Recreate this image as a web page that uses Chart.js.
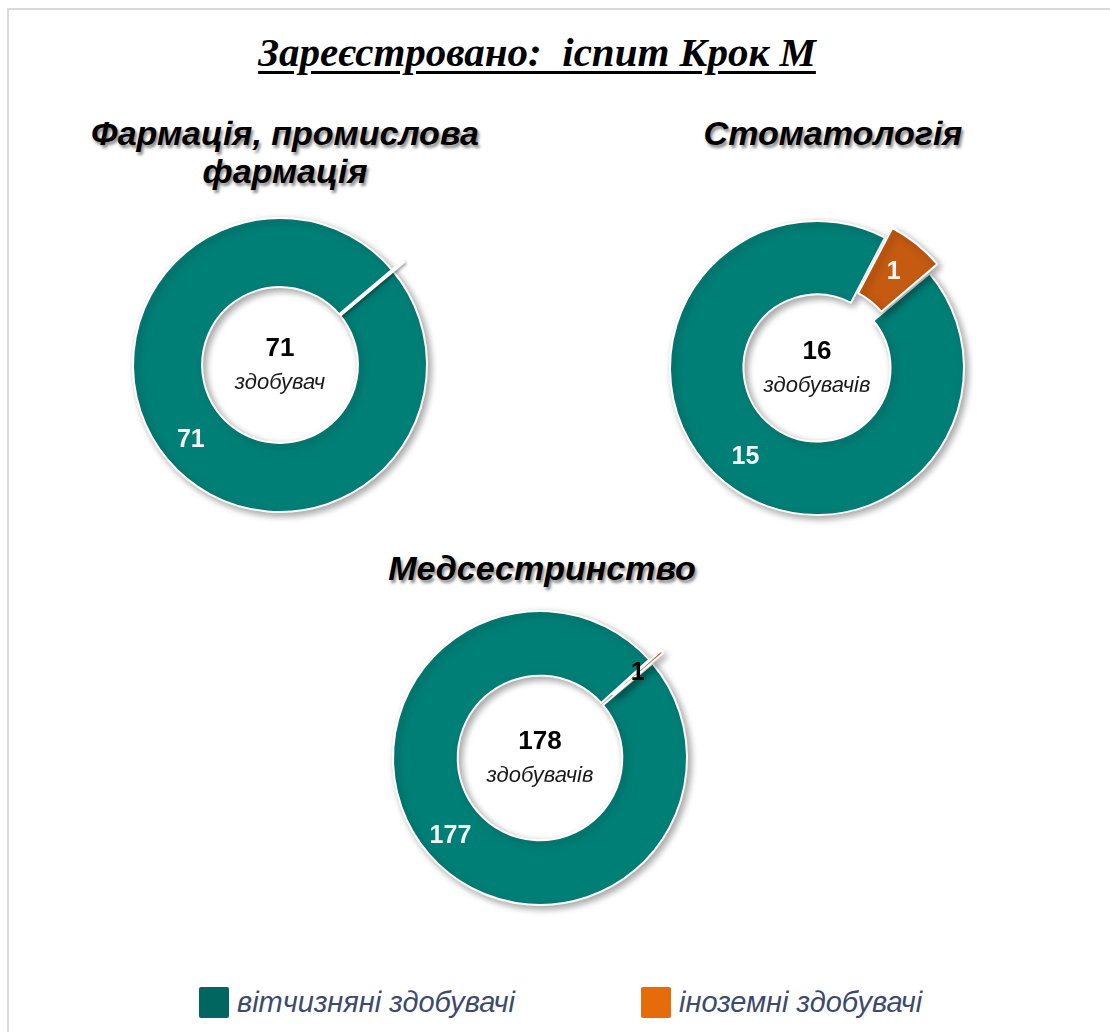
<!DOCTYPE html>
<html lang="uk">
<head>
<meta charset="utf-8">
<title>Зареєстровано: іспит Крок М</title>
<script src="https://cdn.jsdelivr.net/npm/chart.js@4.4.1/dist/chart.umd.min.js"></script>
<style>
    html, body { margin: 0; padding: 0; background: #fff; }
    #page {
        position: relative; width: 1110px; height: 1032px; overflow: hidden;
        font-family: "Liberation Sans", Arial, sans-serif;
    }
    #frame {
        position: absolute; left: 7px; top: 8px; right: -10px; bottom: -10px;
        border-left: 2px solid #d9d9d9; border-top: 2px solid #d9d9d9;
    }
    #main-title {
        position: absolute; left: 0; width: 1074px; top: 29px; text-align: center;
        font-family: "Liberation Serif", "Times New Roman", serif;
        font-style: italic; font-weight: bold; font-size: 41px; line-height: 46px;
        text-decoration: underline; text-decoration-thickness: 3px; text-underline-offset: 5px;
    }
    .sub-title {
        position: absolute; width: 500px; text-align: center;
        font-weight: bold; font-style: italic; font-size: 34px; line-height: 38px;
        color: #000; text-shadow: 2px 3px 3px rgba(0,0,0,.45);
    }
    .ring { position: absolute; width: 400px; height: 400px; }
    .lg-item { position: absolute; top: 987px; height: 31px; }
    .lg-box { position: absolute; left: 0; top: 0; width: 30px; height: 31px; border-radius: 2px; }
    .lg-text {
        position: absolute; left: 38px; top: -2px; white-space: nowrap;
        font-style: italic; font-size: 29px; line-height: 34px; color: #3d4a6b;
    }
</style>
</head>
<body>
<div id="page">
    <div id="frame"></div>
    <div id="main-title">Зареєстровано:&nbsp; іспит Крок М</div>
    <div id="titles"></div>
    <div id="rings"></div>
    <div id="legend"></div>
</div>
<script>
/* global Chart */

// Дані
var categories   = ['вітчизняні здобувачі', 'іноземні здобувачі'];
var specialties  = [['Фармація, промислова', 'фармація'], ['Стоматологія'], ['Медсестринство']];
var domestic     = [71, 15, 177];
var foreign      = [0, 1, 1];
var centerWords  = ['здобувач', 'здобувачів', 'здобувачів'];

(function () {
    'use strict';

    var SLICE_COLORS  = ['#007f77', '#c55a11'];
    var LEGEND_COLORS = ['#00665f', '#e46c0a'];

    // розміщення кожного кільця (центр, заголовок)
    var layout = [
        { cx: 280, cy: 365, cutout: '53%', titleX: 285, titleTop: 114, lbl: ['#f4f4f4', '#f4f4f4'] },
        { cx: 817, cy: 368, cutout: '50%', titleX: 833, titleTop: 114, lbl: ['#f4f4f4', '#f4f4f4'] },
        { cx: 540, cy: 758, cutout: '56%', titleX: 542, titleTop: 549, lbl: ['#f4f4f4', '#000'] },
    ];
    var EXPLODE = 30;

    function shadowOn(ctx, blur, off) {
        ctx.shadowColor   = 'rgba(0,0,0,0.35)';
        ctx.shadowBlur    = blur;
        ctx.shadowOffsetX = off;
        ctx.shadowOffsetY = off;
    }

    // =========================================================
    // Плагін: тінь, підписи, текст у центрі
    // =========================================================
    var ringDecor = {
        id: 'ringDecor',
        beforeDatasetsDraw: function (chart) {
            chart.ctx.save();
            shadowOn(chart.ctx, 7, 3);
        },
        afterDatasetsDraw: function (chart) {
            var ctx  = chart.ctx;
            var opts = chart.options.plugins.ringDecor;
            var data = chart.data.datasets[0].data;
            var meta = chart.getDatasetMeta(0);
            var x0, y0;
            ctx.restore();

            meta.data.forEach(function (arc, i) {
                var p    = arc.getProps(['x', 'y', 'startAngle', 'endAngle', 'innerRadius', 'outerRadius'], true);
                var circ = p.endAngle - p.startAngle;
                // зсув так само, як його робить ArcElement (радіус + перенесення)
                var off  = (arc.options.offset || 0) / 4;
                var disp = off + off * (1 - Math.sin(Math.min(Math.PI, circ)));
                var mid  = (p.startAngle + p.endAngle) / 2;
                var cos  = Math.cos(mid), sin = Math.sin(mid);
                x0 = p.x; y0 = p.y;

                if (!data[i]) {
                    // нульовий сектор — лише біла риска
                    ctx.save();
                    shadowOn(ctx, 3, 1.5);
                    ctx.strokeStyle = '#fff';
                    ctx.lineWidth   = 4;
                    ctx.beginPath();
                    ctx.moveTo(p.x + cos * p.innerRadius, p.y + sin * p.innerRadius);
                    ctx.lineTo(p.x + cos * (p.outerRadius + disp), p.y + sin * (p.outerRadius + disp));
                    ctx.stroke();
                    ctx.restore();
                    return;
                }

                var r = (p.innerRadius + p.outerRadius) / 2 + disp + (i === 0 ? 4 : 0);
                ctx.save();
                ctx.fillStyle    = opts.labelColors[i];
                ctx.font         = 'bold 25px "Liberation Sans", Arial, sans-serif';
                ctx.textAlign    = 'center';
                ctx.textBaseline = 'middle';
                ctx.fillText(String(data[i]), p.x + cos * r, p.y + sin * r);
                ctx.restore();
            });

            var total = data.reduce(function (a, b) { return a + b; }, 0);
            ctx.save();
            ctx.textAlign    = 'center';
            ctx.textBaseline = 'middle';
            ctx.fillStyle    = '#000';
            ctx.font         = 'bold 26px "Liberation Sans", Arial, sans-serif';
            ctx.fillText(String(total), x0, y0 - 16);
            ctx.fillStyle    = '#1a1a1a';
            ctx.font         = 'italic 22px "Liberation Sans", Arial, sans-serif';
            ctx.fillText(opts.word, x0, y0 + 18);
            ctx.restore();
        },
    };

    // =========================================================
    // Заголовки та кільця
    // =========================================================
    var titles = document.getElementById('titles');
    var rings  = document.getElementById('rings');

    specialties.forEach(function (lines, i) {
        var L = layout[i];

        var t = document.createElement('div');
        t.className  = 'sub-title';
        t.style.left = (L.titleX - 250) + 'px';
        t.style.top  = L.titleTop + 'px';
        t.innerHTML  = lines.join('<br>');
        titles.appendChild(t);

        var cv = document.createElement('canvas');
        cv.className  = 'ring';
        cv.width      = 400;
        cv.height     = 400;
        cv.style.left = (L.cx - 200) + 'px';
        cv.style.top  = (L.cy - 200) + 'px';
        rings.appendChild(cv);

        new Chart(cv, {
            type: 'doughnut',
            data: {
                labels: categories,
                datasets: [{
                    data:            [domestic[i], foreign[i]],
                    backgroundColor: SLICE_COLORS,
                    borderColor:     '#fff',
                    borderWidth:     2,
                    offset:          [0, EXPLODE],
                    hoverOffset:     0,
                }],
            },
            options: {
                responsive: false,
                animation:  false,
                events:     [],
                rotation:   50,
                radius:     147,
                cutout:     L.cutout,
                layout:     { padding: 0 },
                plugins: {
                    legend:  { display: false },
                    tooltip: { enabled: false },
                    ringDecor: { labelColors: L.lbl, word: centerWords[i] },
                },
            },
            plugins: [ringDecor],
        });
    });

    // =========================================================
    // Легенда
    // =========================================================
    var legend = document.getElementById('legend');
    var legendX = [199, 641];
    categories.forEach(function (name, i) {
        var item = document.createElement('div');
        item.className  = 'lg-item';
        item.style.left = legendX[i] + 'px';
        item.innerHTML  = '<div class="lg-box" style="background:' + LEGEND_COLORS[i] + '"></div>' +
                          '<div class="lg-text">' + name + '</div>';
        legend.appendChild(item);
    });
}());
</script>
</body>
</html>
